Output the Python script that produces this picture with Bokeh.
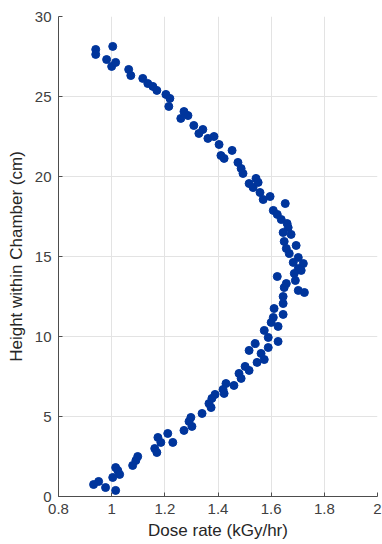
from bokeh.plotting import figure
from bokeh.models import FixedTicker, Range1d
from bokeh.embed import file_html
from bokeh.resources import INLINE

dose_rate = [
    0.940, 0.940, 1.004, 0.981, 1.000, 1.015, 1.064, 1.072, 1.117, 1.136,
    1.155, 1.170, 1.204, 1.219, 1.215, 1.272, 1.260, 1.287, 1.309, 1.343,
    1.328, 1.362, 1.385, 1.404, 1.411, 1.423, 1.453, 1.475, 1.487, 1.494,
    1.517, 1.532, 1.543, 1.551, 1.558, 1.570, 1.596, 1.608, 1.623, 1.653,
    1.638, 1.660, 1.664, 1.645, 1.675, 1.649, 1.694, 1.657, 1.668, 1.702,
    1.683, 1.721, 1.702, 1.713, 1.687, 1.623, 1.691, 1.657, 1.649, 1.702,
    1.725, 1.645, 1.645, 1.611, 1.645, 1.608, 1.600, 1.626, 1.574, 1.589,
    1.626, 1.540, 1.589, 1.517, 1.562, 1.547, 1.574, 1.502, 1.517, 1.479,
    1.487, 1.430, 1.460, 1.419, 1.423, 1.389, 1.377, 1.366, 1.374, 1.340,
    1.298, 1.291, 1.302, 1.272, 1.211, 1.174, 1.185, 1.230, 1.162, 1.170,
    1.098, 1.091, 1.079, 1.015, 1.023, 1.030, 1.004, 0.951, 0.932, 0.977,
    1.015,
]
height_cm = [
    27.94, 27.63, 28.13, 27.31, 26.88, 27.13, 26.69, 26.31, 26.13, 25.81,
    25.63, 25.38, 25.13, 24.88, 24.38, 24.06, 23.63, 23.81, 23.19, 22.94,
    22.69, 22.38, 22.50, 22.00, 21.31, 21.13, 21.63, 20.88, 20.50, 20.19,
    19.56, 19.31, 19.88, 19.63, 19.00, 18.56, 18.75, 17.88, 17.63, 18.31,
    17.31, 17.06, 16.81, 16.50, 16.38, 15.94, 15.69, 15.50, 15.19, 14.94,
    14.63, 14.56, 14.25, 14.13, 13.94, 13.75, 13.50, 13.31, 13.06, 12.88,
    12.75, 12.50, 12.06, 11.75, 11.38, 11.19, 10.88, 10.63, 10.38, 9.94,
    9.69, 9.56, 9.31, 9.13, 8.94, 8.38, 8.56, 8.13, 7.88, 7.69,
    7.38, 7.06, 6.94, 6.69, 6.44, 6.38, 6.13, 5.81, 5.56, 5.19,
    4.94, 4.69, 4.38, 4.13, 3.94, 3.69, 3.38, 3.38, 3.00, 2.75,
    2.50, 2.25, 1.94, 1.81, 1.63, 1.38, 1.19, 0.94, 0.75, 0.56,
    0.38,
]
x_ticks = [0.8, 1.0, 1.2, 1.4, 1.6, 1.8, 2.0]
x_tick_labels = ["0.8", "1", "1.2", "1.4", "1.6", "1.8", "2"]
y_ticks = [0, 5, 10, 15, 20, 25, 30]

FONT = "Liberation Sans"

p = figure(width=382, height=544, output_backend="svg", toolbar_location=None,
           x_range=Range1d(0.8, 2.0), y_range=Range1d(0, 30),
           min_border_left=58, min_border_right=5, min_border_top=16,
           min_border_bottom=48)
p.outline_line_color = None
p.background_fill_color = "white"

p.scatter(dose_rate, height_cm, size=8, marker="circle",
          fill_color="#00359c", line_color="#00359c")

p.xaxis.ticker = FixedTicker(ticks=x_ticks)
p.xaxis.major_label_overrides = {t: l for t, l in zip(x_ticks, x_tick_labels)}
p.yaxis.ticker = FixedTicker(ticks=y_ticks)

for ax in (p.xaxis[0], p.yaxis[0]):
    ax.axis_line_color = "#4d4d4d"
    ax.major_tick_line_color = "#4d4d4d"
    ax.major_tick_in = 4
    ax.major_tick_out = 0
    ax.minor_tick_line_color = None
    ax.major_label_text_font = FONT
    ax.major_label_text_font_size = "15px"
    ax.major_label_text_color = "#404040"
    ax.axis_label_text_font = FONT
    ax.axis_label_text_font_size = "17px"
    ax.axis_label_text_font_style = "normal"
    ax.axis_label_text_color = "#262626"

p.xaxis.axis_label = "Dose rate (kGy/hr)"
p.yaxis.axis_label = "Height within Chamber (cm)"
p.xaxis.major_label_standoff = 7
p.yaxis.major_label_standoff = 7
p.xaxis.axis_label_standoff = 4
p.yaxis.axis_label_standoff = 6

p.grid.grid_line_color = "#e3e3e3"
p.grid.grid_line_width = 1

open("out.html", "w").write(file_html(p, INLINE))
